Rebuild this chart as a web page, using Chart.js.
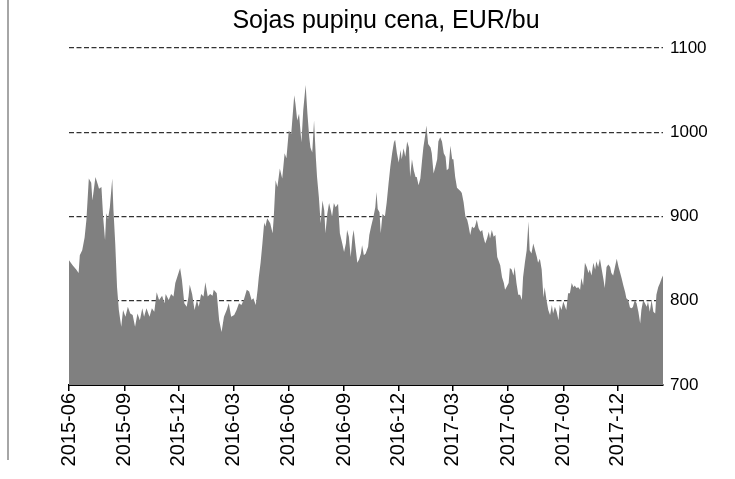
<!DOCTYPE html>
<html>
<head>
<meta charset="utf-8">
<script src="https://cdn.jsdelivr.net/npm/chart.js@4.4.1/dist/chart.umd.min.js"></script>
<style>
  html, body { margin: 0; padding: 0; background: #ffffff; }
  #wrap { width: 735px; height: 479px; position: relative; }
</style>
</head>
<body>
<div id="wrap"><canvas id="c" width="735" height="479"></canvas></div>
<script>
// ---- data ----
const chartTitle = 'Sojas pupiņu cena, EUR/bu';
const startDate = '2015-06-01';
const tickLabels = ['2015-06','2015-09','2015-12','2016-03','2016-06','2016-09','2016-12','2017-03','2017-06','2017-09','2017-12'];
const yTicks = [700, 800, 900, 1000, 1100];
// days since startDate
const dayOffsets = [
  0,6,12,16,18,22,26,29,33,37,39,44,48,50,54,57,60,62,65,68,72,74,77,80,83,87,90,94,98,102,106,110,114,118,122,125,129,134,138,142,146,150,155,159,161,166,170,174,177,181,185,188,192,196,199,201,205,209,213,216,220,224,227,231,235,239,
  241,246,250,254,258,263,266,270,275,279,283,287,291,296,300,304,307,311,314,316,319,322,325,327,330,335,339,341,344,347,351,355,359,362,366,370,375,377,380,383,387,390,394,397,400,402,405,408,411,413,416,419,422,425,427,430,433,436,438,441,444,448,451,455,458,461,463,466,469,472,474,477,480,483,486,
  488,491,494,498,500,503,507,510,512,514,517,519,522,526,529,532,535,538,541,543,546,549,552,554,557,560,563,566,568,571,574,577,579,582,585,588,590,593,595,598,602,604,607,610,613,615,618,621,624,627,629,632,635,638,640,643,646,649,652,654,657,660,663,665,668,671,674,676,679,682,685,688,690,693,696,699,701,704,707,710,713,715,718,721,724,726,729,732,
  734,737,740,742,745,748,751,754,756,759,762,765,767,770,773,776,779,781,784,787,790,792,795,798,801,804,806,809,812,815,817,820,823,826,828,831,834,837,840,842,845,848,851,853,856,859,862,865,867,870,873,876,878,881,884,887,890,892,895,898,901,903,906,909,912,915,917,920,923,926,928,931,934,937,939,942,945,948,951,953,956,959,962,964,967,970,973,976,978,981,984,987,989
];
const prices = [
  848,842,837,833,854,860,875,896,945,940,919,947,938,933,935,898,872,904,897,911,945,908,868,816,789,769,789,781,793,785,783,769,785,777,791,781,791,781,791,787,810,801,806,797,808,801,808,805,821,830,839,825,797,793,805,819,808,789,801,793,808,805,822,805,808,806,
  813,809,777,763,781,790,797,781,783,789,797,795,801,813,811,801,803,795,813,828,845,868,893,888,898,892,880,900,943,935,957,945,975,969,1002,998,1044,1034,1014,1022,988,1026,1056,1022,994,982,976,1014,970,947,923,892,919,907,880,903,916,907,900,916,911,915,880,868,858,868,884,876,852,876,884,864,845,849,856,
  866,854,856,864,878,888,900,911,929,909,905,880,903,900,917,939,959,975,988,991,975,964,979,968,981,971,989,982,947,968,955,947,947,937,945,968,982,996,1008,986,982,975,951,959,968,989,994,989,975,971,955,957,984,968,968,947,934,932,930,928,917,900,896,890,878,888,886,888,896,886,882,884,876,868,874,882,874,884,876,878,852,848,842,828,821,813,817,821,
  839,837,830,840,821,807,807,801,828,845,860,894,860,856,868,860,852,845,850,837,804,816,801,789,783,795,785,793,787,777,795,789,799,793,789,809,809,821,816,818,815,816,813,827,818,845,840,833,837,830,845,837,847,840,850,837,825,815,840,843,840,833,830,840,850,840,835,827,818,810,803,801,792,791,793,801,797,787,773,789,801,797,793,799,787,801,787,785,807,816,821,827,830
];

// ---- helpers ----
const FONT = "'Liberation Sans', Arial, Helvetica, sans-serif";
const t0 = Date.parse(startDate + 'T00:00:00Z');
const tickDays = tickLabels.map(l => Math.round((Date.parse(l + '-01T00:00:00Z') - t0) / 864e5));
const points = dayOffsets.map((d, i) => ({ x: d, y: prices[i] }));
const xMax = dayOffsets[dayOffsets.length - 1];

const decor = {
  id: 'decor',
  afterDraw(chart) {
    const ctx = chart.ctx;
    ctx.save();
    ctx.fillStyle = '#a6a6a6';
    ctx.fillRect(7, 0, 2, 460);
    ctx.fillStyle = '#000';
    ctx.font = '25px ' + FONT;
    ctx.textAlign = 'center';
    ctx.textBaseline = 'middle';
    ctx.fillText(chartTitle, 386, 21);
    ctx.restore();
  }
};

new Chart(document.getElementById('c'), {
  type: 'line',
  data: {
    datasets: [{
      data: points,
      fill: 'start',
      backgroundColor: '#808080',
      borderWidth: 0,
      borderColor: 'rgba(0,0,0,0)',
      pointRadius: 0,
      tension: 0
    }]
  },
  options: {
    responsive: false,
    animation: false,
    devicePixelRatio: 1,
    layout: { padding: { left: 69, top: 48, right: 0, bottom: 0 } },
    plugins: { legend: { display: false }, title: { display: false }, tooltip: { enabled: false } },
    scales: {
      x: {
        type: 'linear',
        position: 'bottom',
        min: 0,
        max: xMax,
        afterBuildTicks: s => { s.ticks = tickDays.map(v => ({ value: v })); },
        afterFit: s => { s.height = 94; },
        ticks: {
          autoSkip: false,
          minRotation: 90,
          maxRotation: 90,
          padding: 2,
          color: '#000',
          font: { family: FONT, size: 20 },
          callback: v => { const i = tickDays.indexOf(v); return i >= 0 ? tickLabels[i] : ''; }
        },
        grid: { drawOnChartArea: false, drawTicks: true, tickLength: 6, color: '#000', lineWidth: 1.5 },
        border: { display: true, color: '#000', width: 2 }
      },
      y: {
        position: 'right',
        min: 700,
        max: 1100,
        afterBuildTicks: s => { s.ticks = yTicks.map(v => ({ value: v })); },
        afterFit: s => { s.width = 72; },
        ticks: {
          padding: 7,
          color: '#000',
          font: { family: FONT, size: 17 },
          callback: v => String(v)
        },
        grid: {
          drawTicks: false,
          color: c => (c.tick && c.tick.value === 700) ? 'rgba(0,0,0,0)' : '#333',
          lineWidth: 1.3
        },
        border: { display: false, dash: [5, 2.5] }
      }
    }
  },
  plugins: [decor]
});
</script>
</body>
</html>
